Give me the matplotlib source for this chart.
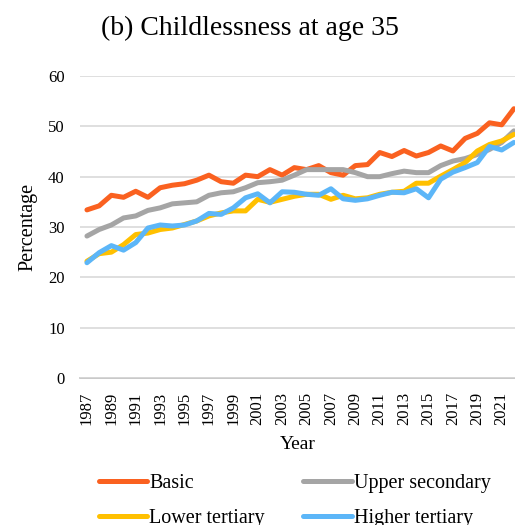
import matplotlib
matplotlib.use("Agg")
import matplotlib.pyplot as plt

years = list(range(1987, 2023))

basic = [33.4, 34.2, 36.3, 35.9, 37.1, 35.9, 37.8, 38.3, 38.6, 39.3, 40.3, 39.0,
         38.7, 40.3, 40.0, 41.4, 40.3, 41.8, 41.4, 42.2, 40.8, 40.3, 42.2, 42.4,
         44.8, 44.0, 45.2, 44.1, 44.8, 46.1, 45.1, 47.6, 48.6, 50.7, 50.3, 53.5]
upper_secondary = [28.2, 29.5, 30.4, 31.8, 32.2, 33.3, 33.8, 34.6, 34.8, 35.0, 36.3, 36.8,
                   37.0, 37.8, 38.8, 39.0, 39.3, 40.3, 41.4, 41.4, 41.4, 41.4, 40.8, 40.0,
                   40.0, 40.6, 41.1, 40.8, 40.8, 42.2, 43.1, 43.6, 44.4, 45.4, 46.8, 49.1]
lower_tertiary = [23.2, 24.7, 25.0, 26.5, 28.5, 28.8, 29.5, 29.8, 30.5, 31.2, 32.2, 32.8,
                  33.2, 33.2, 35.5, 34.9, 35.5, 36.1, 36.5, 36.5, 35.5, 36.3, 35.6, 35.8,
                  36.5, 36.9, 37.1, 38.7, 38.7, 40.1, 41.4, 42.8, 45.1, 46.4, 47.1, 48.4]
higher_tertiary = [22.9, 24.9, 26.3, 25.4, 26.9, 29.8, 30.4, 30.2, 30.4, 31.2, 32.7, 32.5,
                   33.8, 35.8, 36.6, 34.8, 37.0, 36.9, 36.5, 36.3, 37.6, 35.6, 35.3, 35.6,
                   36.3, 36.9, 36.8, 37.6, 35.8, 39.5, 40.9, 41.8, 42.8, 46.0, 45.3, 46.8]

series = [("Basic", basic, "#FA6120"),
          ("Upper secondary", upper_secondary, "#A5A5A5"),
          ("Lower tertiary", lower_tertiary, "#FFC000"),
          ("Higher tertiary", higher_tertiary, "#5CB6F8")]

plt.rcParams['font.family'] = ['Liberation Serif', 'DejaVu Serif']

fig = plt.figure(figsize=(5.15, 5.25), dpi=100)
ax = fig.add_axes([80/515, 1-378/525, 1-80/515, (378-76)/525])

lines = {}
for name, vals, col in series:
    l, = ax.plot(years, vals, color=col, lw=3.6, label=name, solid_capstyle='round', clip_on=False)
    lines[name] = l

ax.set_ylim(0, 60)
ax.set_xlim(1986.43, 2022.09)
ax.set_yticks(range(0, 61, 10))
ax.set_xticks(years[::2])
ax.set_xticklabels([str(y) for y in years[::2]], rotation=90, fontsize=12)
ax.tick_params(axis='y', labelsize=12, length=0, pad=11)
ax.tick_params(axis='x', length=0, pad=10)
ax.grid(axis='y', color='#D9D9D9', lw=1.2)
ax.set_axisbelow(True)
for s in ['top', 'right', 'left']:
    ax.spines[s].set_visible(False)
ax.spines['bottom'].set_color('#BFBFBF')
ax.spines['bottom'].set_linewidth(1.2)
ax.spines['bottom'].set_zorder(0.5)

ax.set_xlabel("Year", fontsize=14, labelpad=8)
ax.set_ylabel("Percentage", fontsize=14.5, labelpad=8)
fig.text(0.486, 1-28/525, "(b) Childlessness at age 35", fontsize=20, ha='center', va='center')

order = ["Basic", "Lower tertiary", "Upper secondary", "Higher tertiary"]
fig.legend([lines[n] for n in order], order, ncol=2, loc='upper left',
           bbox_to_anchor=(81/515, 1-456/525), frameon=False, fontsize=14.5,
           handlelength=2.4, handletextpad=0.1, columnspacing=1.9, labelspacing=0.8)

fig.savefig("out.png", dpi=100)
